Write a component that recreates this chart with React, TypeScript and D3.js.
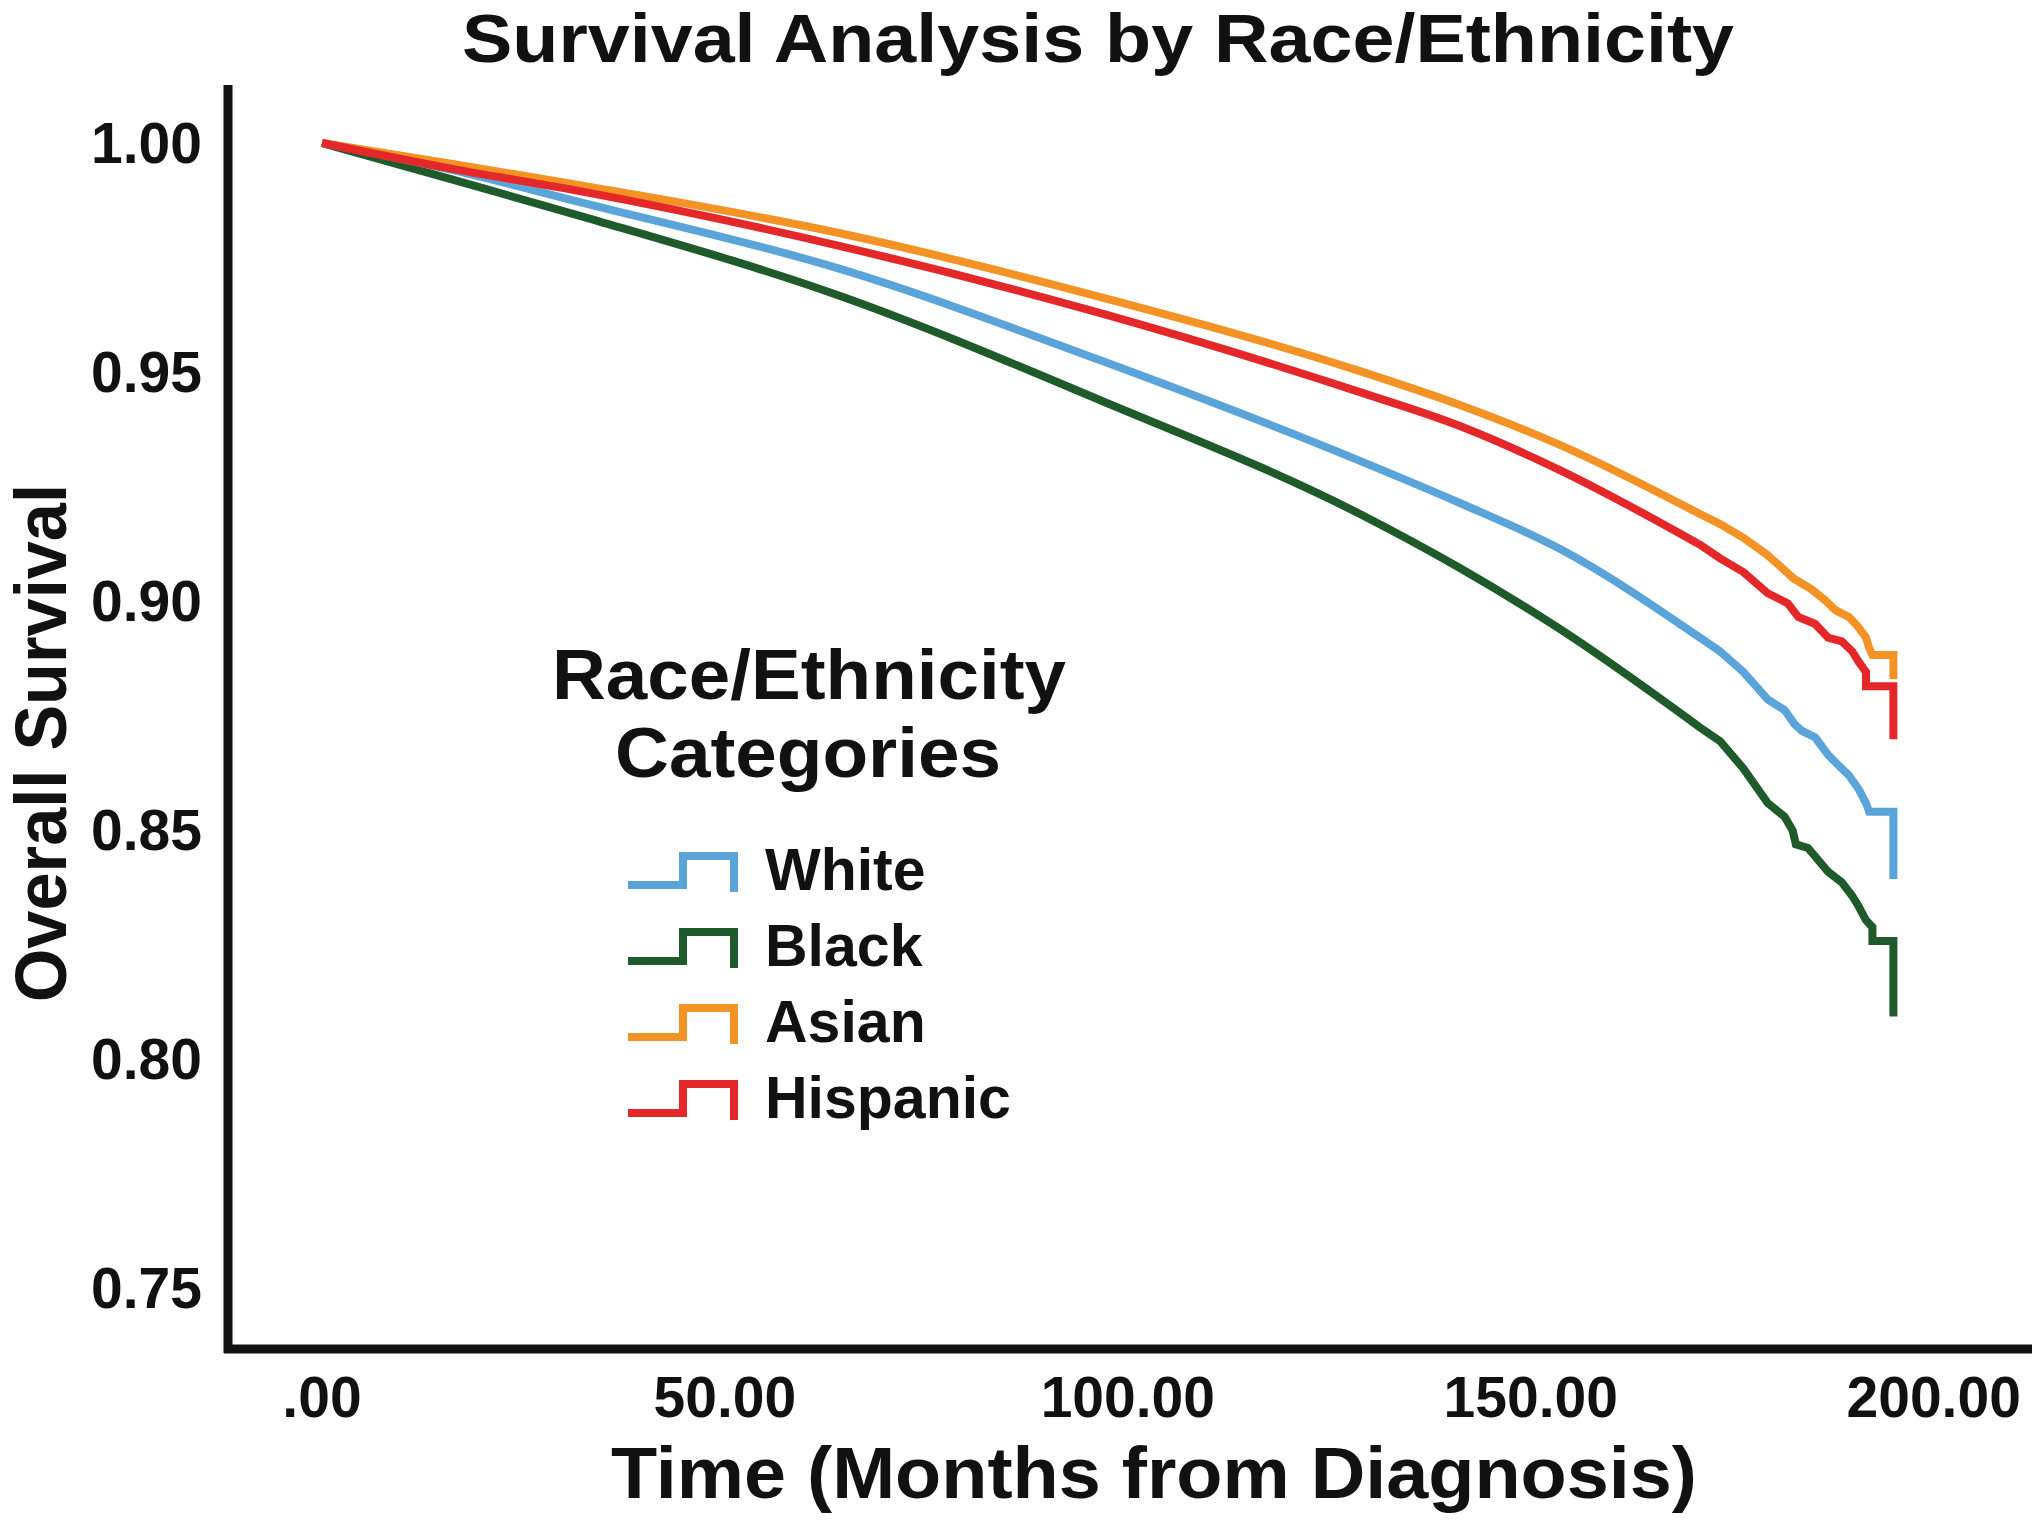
import React from "react";
import * as d3 from "d3";

const W = 2040;
const H = 1524;

// [months, overall survival]
const white: [number, number][] = [
  [0, 1], [16, 0.9942], [32, 0.9871], [64.3, 0.9725], [96.5, 0.9526], [128.8, 0.9306],
  [141.2, 0.9214], [153.6, 0.9114], [171.0, 0.892], [173.5, 0.889], [176.4, 0.8845],
  [179.4, 0.8785], [181.5, 0.8762], [182.7, 0.8732], [183.6, 0.8717], [185.3, 0.8702],
  [186.9, 0.8664], [188.2, 0.8641], [189.5, 0.8619], [190.7, 0.8589], [191.6, 0.8559],
  [192.0, 0.854], [195.0, 0.854], [195.0, 0.8393],
];
const black: [number, number][] = [
  [0, 1], [16, 0.9921], [32, 0.9841], [64.3, 0.9666], [96.5, 0.9439], [128.8, 0.919],
  [141.2, 0.9072], [153.6, 0.8939], [171.0, 0.8724], [173.5, 0.8694], [176.4, 0.8634],
  [179.4, 0.8559], [181.5, 0.8529], [182.5, 0.8499], [182.9, 0.8469], [184.4, 0.8461],
  [186.9, 0.8409], [188.6, 0.8386], [189.9, 0.8356], [190.7, 0.8333], [191.6, 0.8303],
  [192.4, 0.8288], [192.4, 0.8258], [195.0, 0.8258], [195.0, 0.8093],
];
const asian: [number, number][] = [
  [0, 1], [16, 0.9955], [32, 0.9908], [64.3, 0.9803], [96.5, 0.9664], [128.8, 0.9502],
  [141.2, 0.9428], [153.6, 0.9341], [171.0, 0.919], [173.5, 0.9168], [176.4, 0.9138],
  [179.4, 0.91], [182.7, 0.9048], [184.9, 0.9025], [186.5, 0.9002], [187.8, 0.898],
  [189.5, 0.8965], [190.7, 0.8942], [191.6, 0.892], [192.0, 0.8897], [192.4, 0.8882],
  [195.0, 0.8882], [195.0, 0.8829],
];
const hispanic: [number, number][] = [
  [0, 1], [16, 0.9944], [32, 0.9895], [64.3, 0.9775], [96.5, 0.9629], [128.8, 0.9456],
  [141.2, 0.9382], [153.6, 0.9286], [171.0, 0.9123], [173.5, 0.9093], [176.4, 0.9063],
  [179.4, 0.9017], [181.9, 0.8995], [183.2, 0.8965], [185.3, 0.895], [186.9, 0.892],
  [188.6, 0.8912], [189.9, 0.889], [190.7, 0.8867], [191.6, 0.8845], [191.6, 0.8814],
  [195.0, 0.8814], [195.0, 0.8698],
];

const categories = ["White", "Black", "Asian", "Hispanic"];
const colors = ["#5ba4d9", "#1e5a2a", "#f39325", "#e4282a"];
const seriesData = [white, black, asian, hispanic];
const drawOrder = [1, 0, 2, 3];
const smoothUntil = 171; // months: smooth part before, stepped tail after

const yTicks = [1.0, 0.95, 0.9, 0.85, 0.8, 0.75];
const yTickLabels = ["1.00", "0.95", "0.90", "0.85", "0.80", "0.75"];
const xTicks = [0, 50, 100, 150, 200];
const xTickLabels = [".00", "50.00", "100.00", "150.00", "200.00"];

const title = "Survival Analysis by Race/Ethnicity";
const xTitle = "Time (Months from Diagnosis)";
const yTitle = "Overall Survival";
const legendTitle = ["Race/Ethnicity", "Categories"];

const FONT = "'Liberation Sans', Arial, Helvetica, sans-serif";

export default function App() {
  const x = d3.scaleLinear().domain([-12.16, 212.2]).range([224, 2032]);
  const y = d3.scaleLinear().domain([0.7367, 1.01266]).range([1349, 85]);
  const smooth = d3
    .line<[number, number]>()
    .x((d) => x(d[0]))
    .y((d) => y(d[1]))
    .curve(d3.curveMonotoneX);
  const straight = d3
    .line<[number, number]>()
    .x((d) => x(d[0]))
    .y((d) => y(d[1]))
    .curve(d3.curveLinear);

  const pathFor = (data: [number, number][]) => {
    const head = data.filter((d) => d[0] <= smoothUntil);
    const tail = data.filter((d) => d[0] >= smoothUntil);
    const a = smooth(head) || "";
    const b = (straight(tail) || "").replace(/^M/, "L");
    return a + b;
  };

  const [x0, x1] = x.range();
  const [yb, yt] = y.range();

  const legendX = 765;
  const legendY0 = 890;
  const legendStep = 76.0;

  return (
    <svg
      width={W}
      height={H}
      viewBox={`0 0 ${W} ${H}`}
      style={{ position: "absolute", left: 0, top: 0, background: "#fff" }}
      fontFamily={FONT}
      fontWeight="bold"
    >
      <rect x={0} y={0} width={W} height={H} fill="#fff" />
      <text x={1098} y={62} fontSize={68} textAnchor="middle" textLength={1272} lengthAdjust="spacingAndGlyphs" fill="#111">
        {title}
      </text>

      {drawOrder.map((i) => (
        <path
          key={categories[i]}
          d={pathFor(seriesData[i])}
          fill="none"
          stroke={colors[i]}
          strokeWidth={8}
          strokeLinejoin="miter"
          strokeLinecap="butt"
        />
      ))}

      <line x1={228} x2={228} y1={yt} y2={yb + 4} stroke="#111" strokeWidth={9} />
      <line x1={x0} x2={x1} y1={yb} y2={yb} stroke="#111" strokeWidth={9} />

      {yTicks.map((t, i) => (
        <text key={t} x={202} y={y(t) + 20} fontSize={57} textAnchor="end" fill="#111">
          {yTickLabels[i]}
        </text>
      ))}
      {xTicks.map((t, i) => (
        <text key={t} x={x(t)} y={1417} fontSize={57} textAnchor="middle" fill="#111">
          {xTickLabels[i]}
        </text>
      ))}

      <text x={1154} y={1498} fontSize={72} textAnchor="middle" textLength={1086} lengthAdjust="spacingAndGlyphs" fill="#111">
        {xTitle}
      </text>
      <text
        transform={`translate(66, 743) rotate(-90)`}
        fontSize={72}
        textAnchor="middle"
        textLength={518}
        lengthAdjust="spacingAndGlyphs"
        fill="#111"
      >
        {yTitle}
      </text>

      <text x={809} y={699} fontSize={70} textAnchor="middle" textLength={514} lengthAdjust="spacingAndGlyphs" fill="#111">
        {legendTitle[0]}
      </text>
      <text x={808} y={777} fontSize={70} textAnchor="middle" textLength={386} lengthAdjust="spacingAndGlyphs" fill="#111">
        {legendTitle[1]}
      </text>
      {categories.map((c, i) => {
        const by = legendY0 + i * legendStep;
        const p = `M${legendX - 137},${by - 5} H${legendX - 82} V${by - 34} H${legendX - 31} V${by + 2}`;
        return (
          <g key={c}>
            <path d={p} fill="none" stroke={colors[i]} strokeWidth={8} strokeLinejoin="miter" />
            <text x={legendX} y={by} fontSize={59} fill="#111">
              {c}
            </text>
          </g>
        );
      })}
    </svg>
  );
}
